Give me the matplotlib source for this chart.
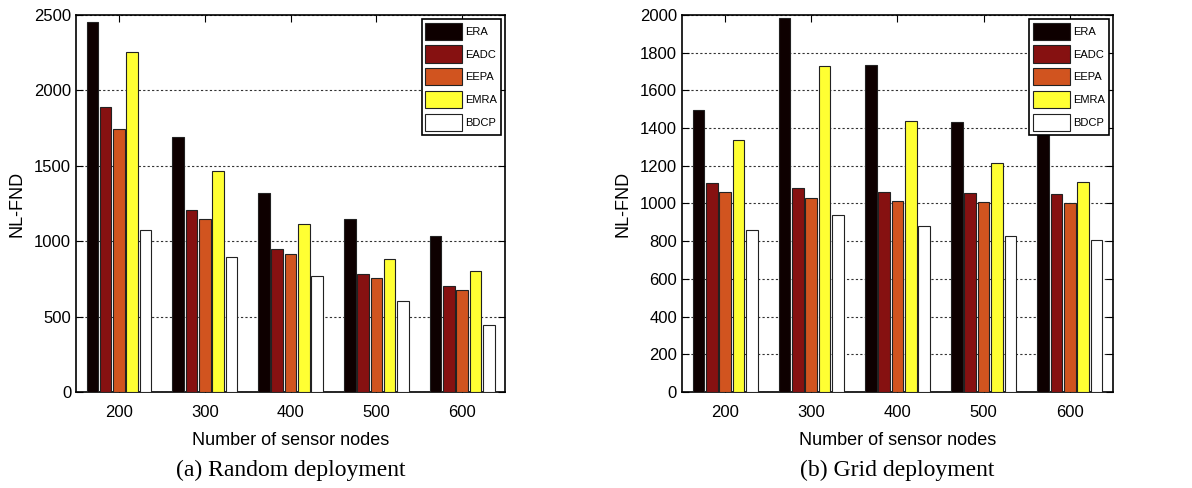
import numpy as np
import matplotlib
matplotlib.use("Agg")
import matplotlib.pyplot as plt

plt.rcParams['font.family'] = ['Liberation Sans', 'DejaVu Sans']

nodes = [200, 300, 400, 500, 600]
methods = ['ERA', 'EADC', 'EEPA', 'EMRA', 'BDCP']
colors = ['#0e0000', '#861111', '#d1541f', '#ffff33', '#ffffff']

# NL-FND, random deployment
random_era = [2455, 1688, 1321, 1144, 1035]
random_eadc = [1887, 1210, 951, 781, 704]
random_eepa = [1741, 1150, 918, 759, 679]
random_emra = [2257, 1465, 1111, 883, 803]
random_bdcp = [1073, 896, 772, 604, 442]

# NL-FND, grid deployment
grid_era = [1494, 1986, 1733, 1432, 1410]
grid_eadc = [1107, 1080, 1063, 1057, 1052]
grid_eepa = [1063, 1031, 1015, 1008, 1003]
grid_emra = [1339, 1731, 1438, 1217, 1112]
grid_bdcp = [861, 939, 879, 829, 806]

random_data = [random_era, random_eadc, random_eepa, random_emra, random_bdcp]
grid_data = [grid_era, grid_eadc, grid_eepa, grid_emra, grid_bdcp]


def draw_panel(ax, data, ymax, ystep, caption):
    x = np.arange(1, len(nodes) + 1)
    step = 0.155
    width = 0.135
    for i, (vals, name, c) in enumerate(zip(data, methods, colors)):
        ax.bar(x + (i - 2) * step, vals, width, color=c, edgecolor='#222222',
               linewidth=0.8, label=name, zorder=3)
    ax.set_xlim(0.5, 5.5)
    ax.set_ylim(0, ymax)
    ax.set_xticks(x)
    ax.set_xticklabels([str(n) for n in nodes])
    ax.set_yticks(np.arange(0, ymax + 1, ystep))
    ax.tick_params(direction='in', top=True, right=True, labelsize=12,
                   length=5, width=0.8)
    ax.tick_params(axis='x', pad=9)
    ax.yaxis.grid(True, linestyle=(0, (2, 2)), color='#333333', linewidth=0.8)
    ax.set_axisbelow(True)
    for s in ax.spines.values():
        s.set_linewidth(1.2)
    ax.set_xlabel('Number of sensor nodes', fontsize=13, labelpad=9)
    ax.set_ylabel('NL-FND', fontsize=13, labelpad=6)
    leg = ax.legend(loc='upper right', fontsize=8, handlelength=3.3,
                    handleheight=2.0, labelspacing=0.5, handletextpad=0.3,
                    borderpad=0.35, fancybox=False, framealpha=1,
                    edgecolor='black', borderaxespad=0.35)
    leg.get_frame().set_linewidth(1.2)
    leg.set_zorder(10)
    ax.text(0.5, -0.207, caption, transform=ax.transAxes, ha='center',
            va='center', fontsize=17, family='Liberation Serif')


fig = plt.figure(figsize=(11.92, 4.88), dpi=100)
ax1 = fig.add_axes([0.0638, 0.1967, 0.3599, 0.7726])
ax2 = fig.add_axes([0.5721, 0.1967, 0.3616, 0.7726])

draw_panel(ax1, random_data, 2500, 500, '(a) Random deployment')
draw_panel(ax2, grid_data, 2000, 200, '(b) Grid deployment')

fig.savefig('out.png', dpi=100)
